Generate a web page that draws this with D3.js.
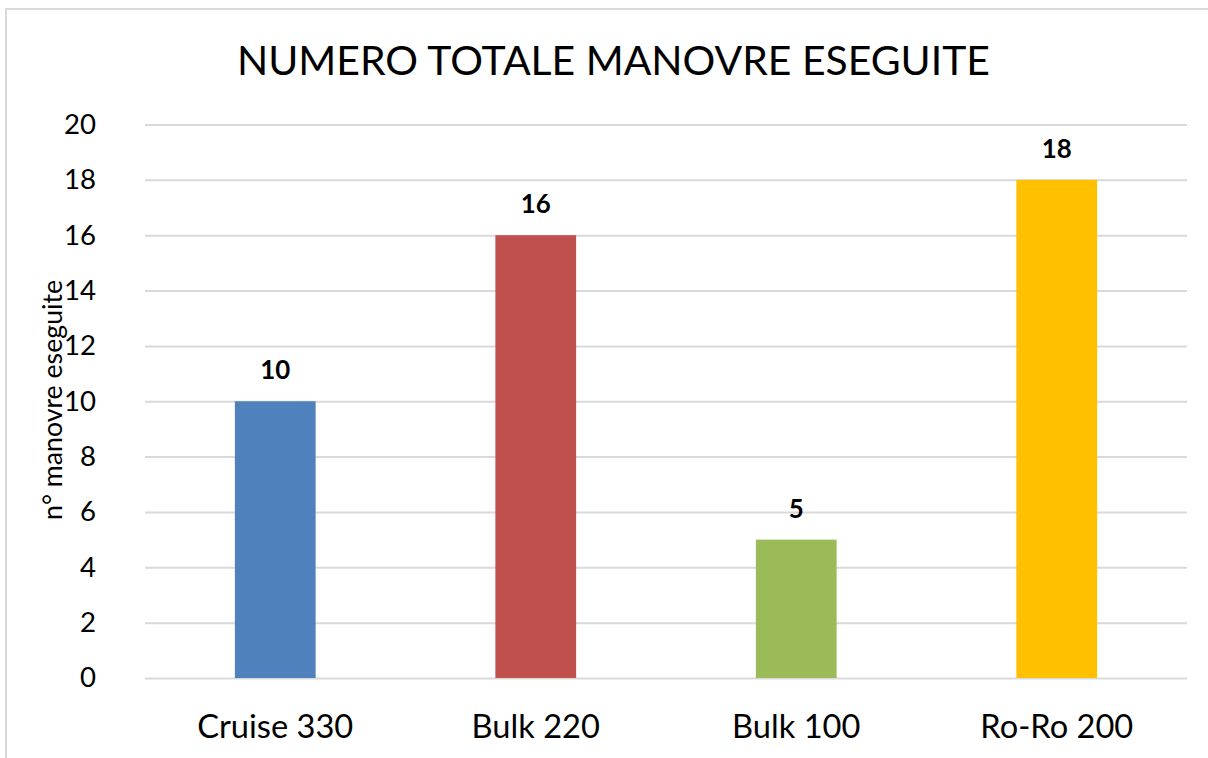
<!DOCTYPE html>
<html><head><meta charset="utf-8">
<script src="https://cdn.jsdelivr.net/npm/d3@7"></script>
<style>body{margin:0;background:#fff}svg{display:block}</style>
</head><body>
<svg id="c" width="1208" height="758"></svg>
<script>
const categories = ["Cruise 330", "Bulk 220", "Bulk 100", "Ro-Ro 200"];
const values = [10, 16, 5, 18];
const colors = ["#4F81BD", "#C0504D", "#9BBB59", "#FFC000"];
const yTicks = [0, 2, 4, 6, 8, 10, 12, 14, 16, 18, 20];
const title = "NUMERO TOTALE MANOVRE ESEGUITE";
const yTitle = "n° manovre eseguite";

const FONT = "Lato, 'Open Sans', sans-serif";
const svg = d3.select("#c");
const W = 1208, H = 758;
const m = {left: 145, right: 1187, top: 124.5, bottom: 678};

// chart frame
svg.append("rect").attr("x", 6).attr("y", 9).attr("width", W + 20).attr("height", H + 20)
  .attr("fill", "#fff").attr("stroke", "#d9d9d9").attr("stroke-width", 2);

const x = d3.scaleBand().domain(categories).range([m.left, m.right]).paddingInner(0.69).paddingOuter(0.345);
const y = d3.scaleLinear().domain([0, 20]).range([m.bottom, m.top]);

function fit(sel, target) {
  sel.each(function () {
    const w = this.getComputedTextLength();
    const fs = parseFloat(this.getAttribute("font-size"));
    this.setAttribute("font-size", (fs * target / w).toFixed(2));
  });
}

// grid + y axis
const yAxis = d3.axisLeft(y).tickValues(yTicks).tickSize(-(m.right - m.left)).tickPadding(49);
const gy = svg.append("g").attr("transform", `translate(${m.left},0)`).call(yAxis);
gy.select(".domain").remove();
gy.selectAll(".tick line").attr("stroke", "#d9d9d9").attr("stroke-width", 2);
gy.selectAll(".tick text").attr("font-family", FONT).attr("font-size", 26).attr("fill", "#000");
fit(gy.selectAll(".tick").filter(d => d === 20).select("text"), 32);
const tfs = gy.selectAll(".tick").filter(d => d === 20).select("text").attr("font-size");
gy.selectAll(".tick text").attr("font-size", tfs);

// bars
svg.append("g").selectAll("rect").data(categories).join("rect")
  .attr("x", d => x(d)).attr("width", x.bandwidth())
  .attr("y", (d, i) => y(values[i])).attr("height", (d, i) => y(0) - y(values[i]))
  .attr("fill", (d, i) => colors[i]);

// value labels
const vl = svg.append("g").selectAll("text").data(categories).join("text")
  .attr("x", d => x(d) + x.bandwidth() / 2).attr("y", (d, i) => y(values[i]) - 22)
  .attr("text-anchor", "middle").attr("font-family", FONT).attr("font-weight", "bold")
  .attr("font-size", 26).text((d, i) => values[i]);
fit(vl.filter(d => d === "Bulk 220"), 30);
const vfs = vl.filter(d => d === "Bulk 220").attr("font-size");
vl.attr("font-size", vfs);

// x axis labels
const xAxis = d3.axisBottom(x).tickSize(0).tickPadding(0);
const gx = svg.append("g").attr("transform", `translate(0,${m.bottom})`).call(xAxis);
gx.select(".domain").remove();
gx.selectAll(".tick text").attr("font-family", FONT).attr("font-size", 28).attr("fill", "#000")
  .attr("dy", null).attr("y", 60);
fit(gx.selectAll(".tick").filter(d => d === "Cruise 330").select("text"), 156);
const xfs = gx.selectAll(".tick").filter(d => d === "Cruise 330").select("text").attr("font-size");
gx.selectAll(".tick text").attr("font-size", xfs);

// y title
const yt = svg.append("text").attr("transform", "translate(62,400) rotate(-90)")
  .attr("text-anchor", "middle").attr("font-family", FONT).attr("font-size", 22).text(yTitle);
fit(yt, 240);

// title
const tt = svg.append("text").attr("x", 613.5).attr("y", 75).attr("text-anchor", "middle")
  .attr("font-family", FONT).attr("font-size", 44).text(title);
fit(tt, 753);
</script>
</body></html>
